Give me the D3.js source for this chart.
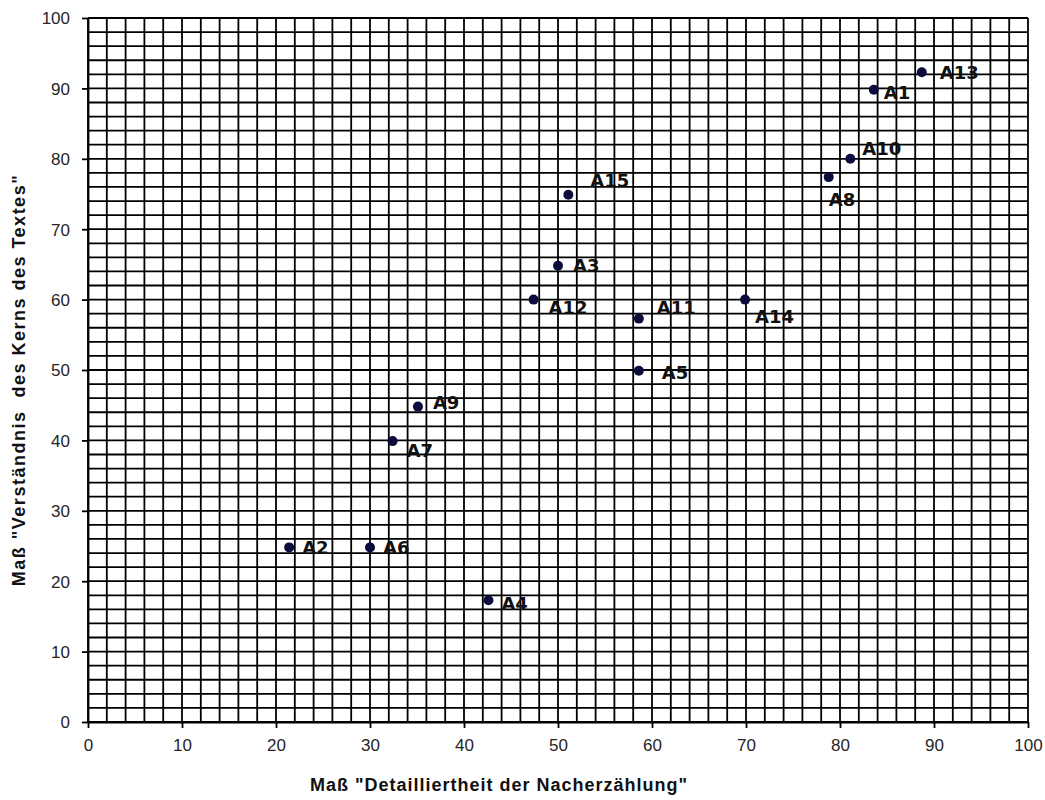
<!DOCTYPE html>
<html>
<head>
<meta charset="utf-8">
<script src="https://cdn.jsdelivr.net/npm/d3@7"></script>
<style>
  body { margin: 0; background: #fff; }
  svg { display: block; }
</style>
</head>
<body>
<svg id="chart" width="1045" height="800"></svg>
<script>
// ---- data ----
const labels = ["A1","A2","A3","A4","A5","A6","A7","A8","A9","A10","A11","A12","A13","A14","A15"];
const xValues = [83.6, 21.4, 50.0, 42.6, 58.6, 30.0, 32.4, 78.8, 35.1, 81.1, 58.6, 47.4, 88.7, 69.9, 51.1];
const yValues = [89.8, 24.8, 64.8, 17.3, 49.9, 24.8, 39.9, 77.4, 44.8, 80.0, 57.3, 60.0, 92.3, 60.0, 74.9];
const xTicks = [0,10,20,30,40,50,60,70,80,90,100];
const yTicks = [0,10,20,30,40,50,60,70,80,90,100];
const xTitle = 'Maß "Detailliertheit der Nacherzählung"';
const yTitle = 'Maß "Verständnis  des Kerns des Textes"';

// label placement (pixel offsets from the point: start x, vertical centre)
const labelOffsets = {
  A1:[10,3], A2:[13,0], A3:[15,0], A4:[13,3], A5:[23,2], A6:[13,0], A7:[14,9],
  A8:[0,22], A9:[15,-4], A10:[12,-10], A11:[18,-11], A12:[15,8], A13:[18,0],
  A14:[10,17], A15:[22,-14]
};

const svg = d3.select("#chart");
const m = {left: 88, right: 1028, top: 18, bottom: 722};

const x = d3.scaleLinear().domain([0,100]).range([m.left, m.right]);
const y = d3.scaleLinear().domain([0,100]).range([m.bottom, m.top]);

// grid
const grid = svg.append("g");
grid.selectAll("line.v").data(d3.range(0, 101, 2)).join("line")
  .attr("x1", d => x(d)).attr("x2", d => x(d))
  .attr("y1", m.top).attr("y2", m.bottom)
  .attr("stroke", "#000").attr("stroke-width", 1.8);
grid.selectAll("line.h").data(d3.range(0, 101, 2)).join("line")
  .attr("y1", d => y(d)).attr("y2", d => y(d))
  .attr("x1", m.left).attr("x2", m.right)
  .attr("stroke", "#000").attr("stroke-width", 1.8);

// axes
const xAxis = d3.axisBottom(x).tickValues(xTicks).tickSize(6).tickPadding(11).tickSizeOuter(0);
const yAxis = d3.axisLeft(y).tickValues(yTicks).tickSize(6).tickPadding(12).tickSizeOuter(0);

const gx = svg.append("g").attr("transform", `translate(0,${m.bottom})`).call(xAxis);
const gy = svg.append("g").attr("transform", `translate(${m.left},0)`).call(yAxis);
[gx, gy].forEach(g => {
  g.select(".domain").attr("stroke", "#000").attr("stroke-width", 1.8);
  g.selectAll(".tick line").attr("stroke", "#000").attr("stroke-width", 1.8);
  g.selectAll(".tick text")
    .attr("font-family", "'Liberation Sans', Arial, sans-serif")
    .attr("font-size", 17).attr("fill", "#262626");
});
gy.selectAll(".tick text").attr("dy", "0.35em");

// titles
svg.append("text")
  .attr("x", 499).attr("y", 791)
  .attr("text-anchor", "middle")
  .attr("font-family", "'Liberation Sans', Arial, sans-serif")
  .attr("font-weight", "bold").attr("font-size", 18).attr("fill", "#111")
  .attr("letter-spacing", 1)
  .text(xTitle);

svg.append("text")
  .attr("transform", "translate(25,380) rotate(-90)")
  .attr("text-anchor", "middle")
  .attr("font-family", "'Liberation Sans', Arial, sans-serif")
  .attr("font-weight", "bold").attr("font-size", 18).attr("fill", "#111")
  .attr("letter-spacing", 1.5)
  .style("white-space", "pre")
  .text(yTitle);

// points
const pts = labels.map((l, i) => ({label: l, x: xValues[i], y: yValues[i]}));
svg.append("g").selectAll("circle").data(pts).join("circle")
  .attr("cx", d => x(d.x)).attr("cy", d => y(d.y)).attr("r", 5)
  .attr("fill", "#0c0c3c");

svg.append("g").selectAll("text").data(pts).join("text")
  .attr("x", d => x(d.x) + labelOffsets[d.label][0])
  .attr("y", d => y(d.y) + labelOffsets[d.label][1])
  .attr("dy", "0.36em")
  .attr("font-family", "'DejaVu Sans', Verdana, sans-serif")
  .attr("font-weight", "bold").attr("font-size", 18).attr("fill", "#111")
  .text(d => d.label);
</script>
</body>
</html>
